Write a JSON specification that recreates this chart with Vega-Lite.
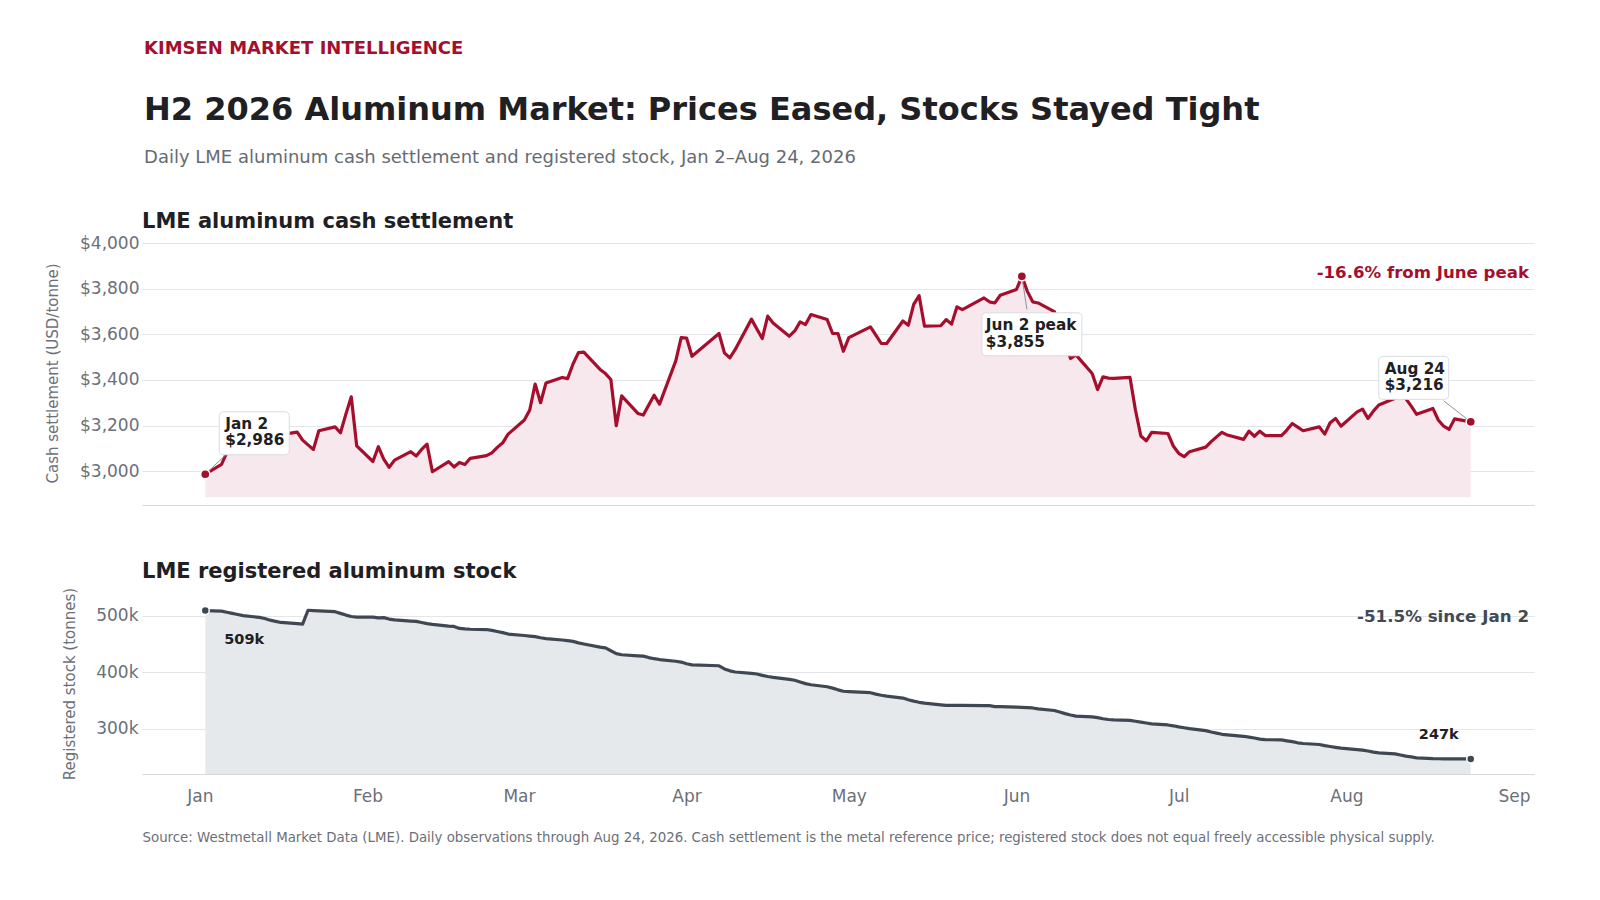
{
  "$schema": "https://vega.github.io/schema/vega-lite/v6.json",
  "background": "#ffffff",
  "padding": {"left": 45, "top": 40, "right": 30, "bottom": 20},
  "title": {
    "text": "KIMSEN MARKET INTELLIGENCE",
    "anchor": "start",
    "dx": 99,
    "fontSize": 18,
    "fontWeight": "bold",
    "color": "#a50f2d",
    "offset": 36
  },
  "datasets": {
    "daily": [
      {"date": "2026-01-02", "price": 2986, "stock": 509000},
      {"date": "2026-01-05", "price": 3029, "stock": 508000},
      {"date": "2026-01-06", "price": 3082, "stock": 506000},
      {"date": "2026-01-07", "price": 3108, "stock": 504000},
      {"date": "2026-01-08", "price": 3096, "stock": 502000},
      {"date": "2026-01-09", "price": 3121, "stock": 500000},
      {"date": "2026-01-12", "price": 3138, "stock": 497000},
      {"date": "2026-01-13", "price": 3127, "stock": 495000},
      {"date": "2026-01-14", "price": 3146, "stock": 492000},
      {"date": "2026-01-15", "price": 3152, "stock": 490000},
      {"date": "2026-01-16", "price": 3160, "stock": 488000},
      {"date": "2026-01-19", "price": 3171, "stock": 486000},
      {"date": "2026-01-20", "price": 3136, "stock": 485000},
      {"date": "2026-01-21", "price": 3115, "stock": 509500},
      {"date": "2026-01-22", "price": 3095, "stock": 509000},
      {"date": "2026-01-23", "price": 3177, "stock": 508500},
      {"date": "2026-01-26", "price": 3194, "stock": 507000},
      {"date": "2026-01-27", "price": 3168, "stock": 504000},
      {"date": "2026-01-28", "price": 3250, "stock": 501000},
      {"date": "2026-01-29", "price": 3326, "stock": 498500},
      {"date": "2026-01-30", "price": 3111, "stock": 497500},
      {"date": "2026-02-02", "price": 3042, "stock": 497500},
      {"date": "2026-02-03", "price": 3107, "stock": 496000},
      {"date": "2026-02-04", "price": 3052, "stock": 496500},
      {"date": "2026-02-05", "price": 3016, "stock": 494000},
      {"date": "2026-02-06", "price": 3048, "stock": 492500},
      {"date": "2026-02-09", "price": 3085, "stock": 490500},
      {"date": "2026-02-10", "price": 3066, "stock": 490000},
      {"date": "2026-02-11", "price": 3095, "stock": 488000},
      {"date": "2026-02-12", "price": 3118, "stock": 486000},
      {"date": "2026-02-13", "price": 2997, "stock": 484500},
      {"date": "2026-02-16", "price": 3041, "stock": 481500},
      {"date": "2026-02-17", "price": 3018, "stock": 481000},
      {"date": "2026-02-18", "price": 3038, "stock": 477500},
      {"date": "2026-02-19", "price": 3029, "stock": 476500},
      {"date": "2026-02-20", "price": 3056, "stock": 476000},
      {"date": "2026-02-23", "price": 3068, "stock": 475500},
      {"date": "2026-02-24", "price": 3080, "stock": 474000},
      {"date": "2026-02-25", "price": 3104, "stock": 472000},
      {"date": "2026-02-26", "price": 3124, "stock": 470000},
      {"date": "2026-02-27", "price": 3162, "stock": 467500},
      {"date": "2026-03-02", "price": 3224, "stock": 465000},
      {"date": "2026-03-03", "price": 3268, "stock": 464000},
      {"date": "2026-03-04", "price": 3382, "stock": 463000},
      {"date": "2026-03-05", "price": 3300, "stock": 461000},
      {"date": "2026-03-06", "price": 3387, "stock": 459500},
      {"date": "2026-03-09", "price": 3411, "stock": 457000},
      {"date": "2026-03-10", "price": 3406, "stock": 456000},
      {"date": "2026-03-11", "price": 3470, "stock": 454500},
      {"date": "2026-03-12", "price": 3520, "stock": 452000},
      {"date": "2026-03-13", "price": 3522, "stock": 450000},
      {"date": "2026-03-16", "price": 3446, "stock": 444500},
      {"date": "2026-03-17", "price": 3428, "stock": 443000},
      {"date": "2026-03-18", "price": 3402, "stock": 438000},
      {"date": "2026-03-19", "price": 3199, "stock": 433000},
      {"date": "2026-03-20", "price": 3330, "stock": 431000},
      {"date": "2026-03-23", "price": 3253, "stock": 429000},
      {"date": "2026-03-24", "price": 3246, "stock": 428500},
      {"date": "2026-03-25", "price": 3290, "stock": 426000},
      {"date": "2026-03-26", "price": 3333, "stock": 424000},
      {"date": "2026-03-27", "price": 3294, "stock": 422500},
      {"date": "2026-03-30", "price": 3484, "stock": 419500},
      {"date": "2026-03-31", "price": 3586, "stock": 418000},
      {"date": "2026-04-01", "price": 3584, "stock": 415000},
      {"date": "2026-04-02", "price": 3504, "stock": 413000},
      {"date": "2026-04-07", "price": 3604, "stock": 411500},
      {"date": "2026-04-08", "price": 3519, "stock": 406000},
      {"date": "2026-04-09", "price": 3497, "stock": 402500},
      {"date": "2026-04-10", "price": 3534, "stock": 400500},
      {"date": "2026-04-13", "price": 3667, "stock": 398000},
      {"date": "2026-04-14", "price": 3624, "stock": 397000},
      {"date": "2026-04-15", "price": 3582, "stock": 394500},
      {"date": "2026-04-16", "price": 3680, "stock": 392500},
      {"date": "2026-04-17", "price": 3650, "stock": 391000},
      {"date": "2026-04-20", "price": 3592, "stock": 387500},
      {"date": "2026-04-21", "price": 3615, "stock": 386000},
      {"date": "2026-04-22", "price": 3655, "stock": 383000},
      {"date": "2026-04-23", "price": 3643, "stock": 380000},
      {"date": "2026-04-24", "price": 3687, "stock": 378000},
      {"date": "2026-04-27", "price": 3665, "stock": 374500},
      {"date": "2026-04-28", "price": 3604, "stock": 372000},
      {"date": "2026-04-29", "price": 3604, "stock": 369000},
      {"date": "2026-04-30", "price": 3526, "stock": 366500},
      {"date": "2026-05-01", "price": 3586, "stock": 366000},
      {"date": "2026-05-05", "price": 3633, "stock": 364000},
      {"date": "2026-05-06", "price": 3597, "stock": 361500},
      {"date": "2026-05-07", "price": 3560, "stock": 359500},
      {"date": "2026-05-08", "price": 3560, "stock": 358000},
      {"date": "2026-05-11", "price": 3659, "stock": 354500},
      {"date": "2026-05-12", "price": 3640, "stock": 351500},
      {"date": "2026-05-13", "price": 3732, "stock": 349000},
      {"date": "2026-05-14", "price": 3770, "stock": 347000},
      {"date": "2026-05-15", "price": 3636, "stock": 345500},
      {"date": "2026-05-18", "price": 3638, "stock": 342500},
      {"date": "2026-05-19", "price": 3665, "stock": 341500},
      {"date": "2026-05-20", "price": 3645, "stock": 341400},
      {"date": "2026-05-21", "price": 3721, "stock": 341400},
      {"date": "2026-05-22", "price": 3709, "stock": 341400},
      {"date": "2026-05-26", "price": 3760, "stock": 341300},
      {"date": "2026-05-27", "price": 3743, "stock": 341000},
      {"date": "2026-05-28", "price": 3738, "stock": 339500},
      {"date": "2026-05-29", "price": 3772, "stock": 339500},
      {"date": "2026-06-01", "price": 3797, "stock": 338500},
      {"date": "2026-06-02", "price": 3855, "stock": 338000},
      {"date": "2026-06-03", "price": 3790, "stock": 337500},
      {"date": "2026-06-04", "price": 3743, "stock": 337000},
      {"date": "2026-06-05", "price": 3738, "stock": 335500},
      {"date": "2026-06-08", "price": 3700, "stock": 332500},
      {"date": "2026-06-09", "price": 3640, "stock": 330000},
      {"date": "2026-06-10", "price": 3560, "stock": 327000},
      {"date": "2026-06-11", "price": 3494, "stock": 324500},
      {"date": "2026-06-12", "price": 3510, "stock": 322500},
      {"date": "2026-06-15", "price": 3428, "stock": 321300},
      {"date": "2026-06-16", "price": 3358, "stock": 320000},
      {"date": "2026-06-17", "price": 3414, "stock": 318000},
      {"date": "2026-06-18", "price": 3408, "stock": 316600},
      {"date": "2026-06-19", "price": 3407, "stock": 316000},
      {"date": "2026-06-22", "price": 3411, "stock": 315000},
      {"date": "2026-06-23", "price": 3268, "stock": 313500},
      {"date": "2026-06-24", "price": 3154, "stock": 312000},
      {"date": "2026-06-25", "price": 3133, "stock": 310500},
      {"date": "2026-06-26", "price": 3170, "stock": 309000},
      {"date": "2026-06-29", "price": 3165, "stock": 307000},
      {"date": "2026-06-30", "price": 3110, "stock": 305500},
      {"date": "2026-07-01", "price": 3078, "stock": 303500},
      {"date": "2026-07-02", "price": 3063, "stock": 302000},
      {"date": "2026-07-03", "price": 3085, "stock": 300500},
      {"date": "2026-07-06", "price": 3105, "stock": 297000},
      {"date": "2026-07-07", "price": 3129, "stock": 294500},
      {"date": "2026-07-08", "price": 3150, "stock": 292500},
      {"date": "2026-07-09", "price": 3170, "stock": 290500},
      {"date": "2026-07-10", "price": 3158, "stock": 289500},
      {"date": "2026-07-13", "price": 3139, "stock": 287000},
      {"date": "2026-07-14", "price": 3175, "stock": 285500},
      {"date": "2026-07-15", "price": 3153, "stock": 284000},
      {"date": "2026-07-16", "price": 3175, "stock": 282000},
      {"date": "2026-07-17", "price": 3156, "stock": 281000},
      {"date": "2026-07-20", "price": 3156, "stock": 280600},
      {"date": "2026-07-21", "price": 3180, "stock": 279000},
      {"date": "2026-07-22", "price": 3209, "stock": 277500},
      {"date": "2026-07-23", "price": 3193, "stock": 275500},
      {"date": "2026-07-24", "price": 3177, "stock": 274300},
      {"date": "2026-07-27", "price": 3194, "stock": 272500},
      {"date": "2026-07-28", "price": 3162, "stock": 270500},
      {"date": "2026-07-29", "price": 3212, "stock": 269000},
      {"date": "2026-07-30", "price": 3231, "stock": 267500},
      {"date": "2026-07-31", "price": 3197, "stock": 266000},
      {"date": "2026-08-03", "price": 3260, "stock": 263500},
      {"date": "2026-08-04", "price": 3272, "stock": 262500},
      {"date": "2026-08-05", "price": 3231, "stock": 261000},
      {"date": "2026-08-06", "price": 3263, "stock": 259000},
      {"date": "2026-08-07", "price": 3290, "stock": 257600},
      {"date": "2026-08-10", "price": 3320, "stock": 256000},
      {"date": "2026-08-11", "price": 3335, "stock": 254000},
      {"date": "2026-08-12", "price": 3318, "stock": 252000},
      {"date": "2026-08-13", "price": 3285, "stock": 250500},
      {"date": "2026-08-14", "price": 3249, "stock": 249000},
      {"date": "2026-08-17", "price": 3275, "stock": 247500},
      {"date": "2026-08-18", "price": 3224, "stock": 247300},
      {"date": "2026-08-19", "price": 3197, "stock": 247200},
      {"date": "2026-08-20", "price": 3183, "stock": 247100},
      {"date": "2026-08-21", "price": 3229, "stock": 247000},
      {"date": "2026-08-24", "price": 3216, "stock": 247000}
    ],
    "callouts": [
      {"date": "2026-01-02", "price": 2986, "label": "Jan 2"},
      {"date": "2026-06-02", "price": 3855, "label": "Jun 2 peak"},
      {"date": "2026-08-24", "price": 3216, "label": "Aug 24"}
    ],
    "stockmarks": [
      {"date": "2026-01-02", "stock": 509000, "pos": "start"},
      {"date": "2026-08-24", "stock": 247000, "pos": "end"}
    ]
  },
  "vconcat": [
    {
      "title": {
        "text": "H2 2026 Aluminum Market: Prices Eased, Stocks Stayed Tight",
        "subtitle": "Daily LME aluminum cash settlement and registered stock, Jan 2–Aug 24, 2026",
        "anchor": "start",
        "dx": 99,
        "fontSize": 32,
        "fontWeight": "bold",
        "color": "#1f2023",
        "subtitleFontSize": 18,
        "subtitleColor": "#666b73",
        "subtitlePadding": 22,
        "offset": 43
      },
      "spacing": 56,
      "vconcat": [
        {
          "width": 1392,
          "height": 264,
          "title": {
            "text": "LME aluminum cash settlement",
            "anchor": "start",
            "frame": "group",
            "fontSize": 21,
            "fontWeight": "bold",
            "color": "#1f2023",
            "offset": 2
          },
          "data": {"name": "daily"},
          "encoding": {
            "x": {
              "field": "date",
              "type": "temporal",
              "scale": {
                "type": "utc",
                "domain": [
                  {"year": 2025, "month": 12, "date": 21, "hours": 7, "minutes": 12, "utc": true},
                  {"year": 2026, "month": 9, "date": 4, "hours": 16, "minutes": 48, "utc": true}
                ]
              },
              "axis": {"labels": false, "grid": false, "domain": true, "title": null}
            },
            "y": {
              "field": "price",
              "type": "quantitative",
              "scale": {"domain": [2851, 4010], "zero": false, "nice": false},
              "axis": {
                "values": [3000, 3200, 3400, 3600, 3800, 4000],
                "format": "$,.0f",
                "title": "Cash settlement (USD/tonne)",
                "titlePadding": 19.5,
                "labelPadding": 3,
                "domain": false
              }
            }
          },
          "layer": [
            {
              "mark": {"type": "area", "color": "#f6e8ec", "opacity": 1},
              "encoding": {"y2": {"datum": 2885}}
            },
            {
              "mark": {"type": "line", "color": "#a50f2d", "strokeWidth": 3.2, "strokeJoin": "round"}
            },
            {
              "data": {"name": "callouts"},
              "transform": [{"filter": "datum.label == 'Jun 2 peak'"}],
              "mark": {"type": "text", "align": "right", "baseline": "middle", "dx": -5, "dy": -3, "fontSize": 16.6, "fontWeight": "bold", "color": "#a50f2d"},
              "encoding": {
                "x": {"value": "width"},
                "text": {"value": "-16.6% from June peak"}
              }
            },
            {
              "data": {"name": "callouts"},
              "transform": [{"filter": "datum.label == 'Jan 2'"}],
              "layer": [
                {
                  "mark": {"type": "rule", "color": "#8d9299", "strokeWidth": 1, "x2Offset": 21, "y2Offset": -20},
                  "encoding": {"x2": {"field": "date"}, "y2": {"field": "price"}}
                },
                {
                  "mark": {"type": "rect", "width": 70, "height": 43, "xOffset": 49, "yOffset": -41, "fill": "#ffffff", "stroke": "#d9dce1", "strokeWidth": 1, "cornerRadius": 4}
                },
                {
                  "mark": {"type": "text", "align": "left", "baseline": "middle", "dx": 20, "dy": -50, "fontSize": 15.3, "fontWeight": "bold", "color": "#1f2023"},
                  "encoding": {"text": {"field": "label"}}
                },
                {
                  "mark": {"type": "text", "align": "left", "baseline": "middle", "dx": 20, "dy": -34, "fontSize": 15.3, "fontWeight": "bold", "color": "#1f2023"},
                  "encoding": {"text": {"field": "price", "type": "quantitative", "format": "$,.0f"}}
                }
              ]
            },
            {
              "data": {"name": "callouts"},
              "transform": [{"filter": "datum.label == 'Jun 2 peak'"}],
              "layer": [
                {
                  "mark": {"type": "rule", "color": "#8d9299", "strokeWidth": 1, "x2Offset": 5, "y2Offset": 33},
                  "encoding": {"x2": {"field": "date"}, "y2": {"field": "price"}}
                },
                {
                  "mark": {"type": "rect", "width": 100, "height": 43, "xOffset": 10, "yOffset": 58, "fill": "#ffffff", "stroke": "#d9dce1", "strokeWidth": 1, "cornerRadius": 4}
                },
                {
                  "mark": {"type": "text", "align": "left", "baseline": "middle", "dx": -36, "dy": 49, "fontSize": 15.3, "fontWeight": "bold", "color": "#1f2023"},
                  "encoding": {"text": {"field": "label"}}
                },
                {
                  "mark": {"type": "text", "align": "left", "baseline": "middle", "dx": -36, "dy": 66, "fontSize": 15.3, "fontWeight": "bold", "color": "#1f2023"},
                  "encoding": {"text": {"field": "price", "type": "quantitative", "format": "$,.0f"}}
                }
              ]
            },
            {
              "data": {"name": "callouts"},
              "transform": [{"filter": "datum.label == 'Aug 24'"}],
              "layer": [
                {
                  "mark": {"type": "rule", "color": "#8d9299", "strokeWidth": 1, "x2Offset": -27, "y2Offset": -21},
                  "encoding": {"x2": {"field": "date"}, "y2": {"field": "price"}}
                },
                {
                  "mark": {"type": "rect", "width": 70, "height": 43, "xOffset": -57, "yOffset": -44, "fill": "#ffffff", "stroke": "#d9dce1", "strokeWidth": 1, "cornerRadius": 4}
                },
                {
                  "mark": {"type": "text", "align": "left", "baseline": "middle", "dx": -86, "dy": -53, "fontSize": 15.3, "fontWeight": "bold", "color": "#1f2023"},
                  "encoding": {"text": {"field": "label"}}
                },
                {
                  "mark": {"type": "text", "align": "left", "baseline": "middle", "dx": -86, "dy": -37, "fontSize": 15.3, "fontWeight": "bold", "color": "#1f2023"},
                  "encoding": {"text": {"field": "price", "type": "quantitative", "format": "$,.0f"}}
                }
              ]
            },
            {
              "data": {"name": "callouts"},
              "mark": {"type": "point", "filled": true, "size": 85, "color": "#a50f2d", "stroke": "#ffffff", "strokeWidth": 1.5, "opacity": 1}
            }
          ]
        },
        {
          "width": 1392,
          "height": 181,
          "title": {
            "text": "LME registered aluminum stock",
            "anchor": "start",
            "frame": "group",
            "fontSize": 21,
            "fontWeight": "bold",
            "color": "#1f2023",
            "offset": 5
          },
          "data": {"name": "daily"},
          "encoding": {
            "x": {
              "field": "date",
              "type": "temporal",
              "scale": {
                "type": "utc",
                "domain": [
                  {"year": 2025, "month": 12, "date": 21, "hours": 7, "minutes": 12, "utc": true},
                  {"year": 2026, "month": 9, "date": 4, "hours": 16, "minutes": 48, "utc": true}
                ]
              },
              "axis": {
                "format": "%b",
                "tickCount": {"interval": "month", "step": 1},
                "labelPadding": 14,
                "grid": false,
                "domain": true,
                "title": "Source: Westmetall Market Data (LME). Daily observations through Aug 24, 2026. Cash settlement is the metal reference price; registered stock does not equal freely accessible physical supply.",
                "titleAnchor": "start",
                "titleFontSize": 13.35,
                "titlePadding": 26,
                "titleFontWeight": "normal",
                "titleColor": "#6b7079"
              }
            },
            "y": {
              "field": "stock",
              "type": "quantitative",
              "scale": {"domain": [220400, 540000], "zero": false, "nice": false},
              "axis": {
                "values": [300000, 400000, 500000],
                "format": "~s",
                "title": "Registered stock (tonnes)",
                "titlePadding": 18,
                "labelPadding": 4,
                "domain": false
              }
            }
          },
          "layer": [
            {
              "mark": {"type": "area", "color": "#e6e9ec", "opacity": 1},
              "encoding": {"y2": {"datum": 220400}}
            },
            {
              "mark": {"type": "line", "color": "#3f4852", "strokeWidth": 3.2, "strokeJoin": "round"}
            },
            {
              "data": {"name": "stockmarks"},
              "transform": [{"filter": "datum.pos == 'start'"}],
              "mark": {"type": "text", "align": "right", "baseline": "middle", "dx": -5, "dy": 6, "fontSize": 16.7, "fontWeight": "bold", "color": "#414a54"},
              "encoding": {
                "x": {"value": "width"},
                "text": {"value": "-51.5% since Jan 2"}
              }
            },
            {
              "data": {"name": "stockmarks"},
              "transform": [{"filter": "datum.pos == 'start'"}],
              "mark": {"type": "text", "align": "left", "baseline": "middle", "dx": 19, "dy": 29, "fontSize": 14.5, "fontWeight": "bold", "color": "#1f2023"},
              "encoding": {"text": {"field": "stock", "type": "quantitative", "format": ".3~s"}}
            },
            {
              "data": {"name": "stockmarks"},
              "transform": [{"filter": "datum.pos == 'end'"}],
              "mark": {"type": "text", "align": "right", "baseline": "middle", "dx": -12, "dy": -24, "fontSize": 14.5, "fontWeight": "bold", "color": "#1f2023"},
              "encoding": {"text": {"field": "stock", "type": "quantitative", "format": ".3~s"}}
            },
            {
              "data": {"name": "stockmarks"},
              "mark": {"type": "point", "filled": true, "size": 64, "color": "#3f4852", "stroke": "#ffffff", "strokeWidth": 1.5, "opacity": 1}
            }
          ]
        }
      ]
    }
  ],
  "config": {
    "font": "DejaVu Sans",
    "view": {"stroke": null},
    "axis": {
      "labelFont": "DejaVu Sans",
      "labelFontSize": 17,
      "labelColor": "#6b7079",
      "titleFont": "DejaVu Sans",
      "titleFontSize": 15,
      "titleFontWeight": "normal",
      "titleColor": "#6b7079",
      "ticks": false,
      "gridColor": "#e4e5e9",
      "domainColor": "#d5d8dd"
    },
    "title": {"font": "DejaVu Sans", "subtitleFont": "DejaVu Sans"},
    "text": {"font": "DejaVu Sans"}
  }
}
